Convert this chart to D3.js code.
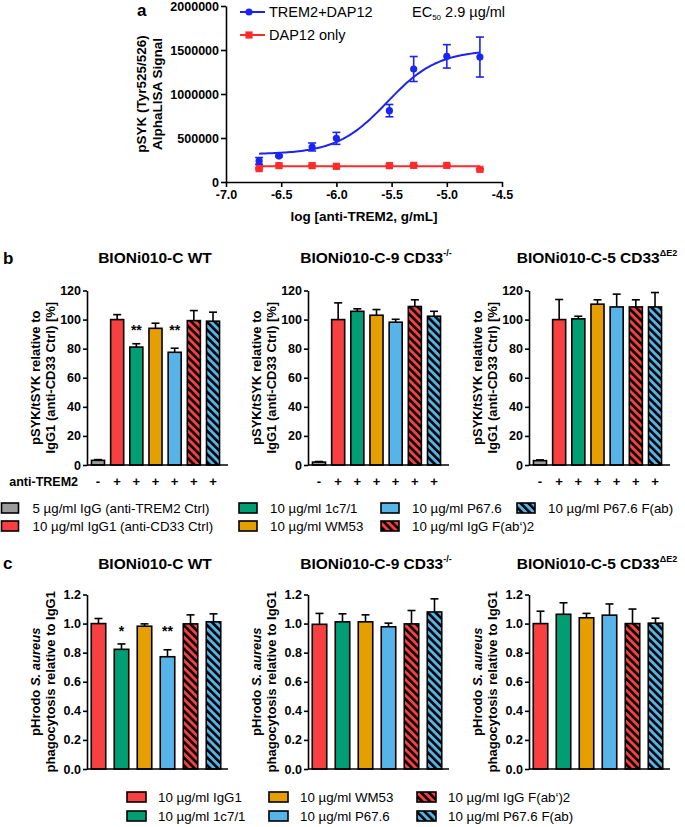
<!DOCTYPE html>
<html>
<head>
<meta charset="utf-8">
<script src="https://cdn.jsdelivr.net/npm/d3@7"></script>
<style>
body { margin: 0; background: #fff; }
svg text { font-family: "Liberation Sans", Arial, sans-serif; fill: #000; }
</style>
</head>
<body>
<svg id="fig" width="685" height="827"></svg>
<script>
// ---- panel a data ----
var logConc = [-6.7, -6.52, -6.22, -6.0, -5.52, -5.3, -5.0, -4.7];
var tremDap = [240000, 295000, 398000, 496000, 811000, 1284000, 1428000, 1420000];
var tremDapErr = [38000, 10000, 45000, 68000, 70000, 142000, 133000, 227000];
var dapOnly = [152000, 186000, 186000, 178000, 186000, 189000, 189000, 144000];
var dapOnlyErr = [8000, 6000, 8000, 5000, 5000, 6000, 5000, 6000];
var tremFit = { bottom: 315000, top: 1500000, logEC50: -5.54, hill: 1.9 };
var dapFit = { bottom: 180000, top: 180000, logEC50: -5.54, hill: 1 };
var aTicksX = [-7.0, -6.5, -6.0, -5.5, -5.0, -4.5];
var aTicksY = [0, 500000, 1000000, 1500000, 2000000];

// ---- panel b data (pSYK/tSYK, %) ----
var bKeys = ["ctrl", "igg1", "c71", "wm53", "p676", "fab2", "fab"];
var bSigns = ["-", "+", "+", "+", "+", "+", "+"];
var bWT = [3.2, 100, 81.1, 94, 77.5, 99.3, 98.9];
var bWTErr = [0.5, 3.4, 2.3, 3.5, 2.8, 6.9, 6.2];
var bWTStars = ["", "", "**", "", "**", "", ""];
var bKO = [2.0, 100, 105.7, 103, 98.2, 109, 102.3];
var bKOErr = [0.4, 11.5, 1.7, 3.9, 2.0, 4.6, 3.4];
var bDE2 = [3.0, 100, 100.5, 110.6, 108.7, 108.7, 108.7];
var bDE2Err = [0.5, 13.8, 1.8, 3.0, 8.8, 4.9, 9.9];
var bTicks = [0, 20, 40, 60, 80, 100, 120];

// ---- panel c data (phagocytosis relative to IgG1) ----
var cKeys = ["igg1", "c71", "wm53", "p676", "fab2", "fab"];
var cWT = [1.0, 0.823, 0.982, 0.772, 0.998, 1.012];
var cWTErr = [0.035, 0.037, 0.016, 0.048, 0.062, 0.055];
var cWTStars = ["", "*", "", "**", "", ""];
var cKO = [0.995, 1.012, 1.012, 0.978, 0.998, 1.08];
var cKOErr = [0.075, 0.055, 0.048, 0.025, 0.092, 0.09];
var cDE2 = [1.0, 1.064, 1.04, 1.058, 1.0, 1.003];
var cDE2Err = [0.085, 0.079, 0.03, 0.077, 0.1, 0.034];
var cTicks = [0, 0.2, 0.4, 0.6, 0.8, 1.0, 1.2];

var lineTitles = [
  ["BIONi010-C WT", ""],
  ["BIONi010-C-9 CD33", "-/-"],
  ["BIONi010-C-5 CD33", "\u0394E2"]
];

var fills = {
  ctrl: "#9b9b9b", igg1: "#f7403f", c71: "#009e73", wm53: "#e69f00",
  p676: "#56b4e9", fab2: "url(#hatchRed)", fab: "url(#hatchBlue)"
};
var labels = {
  ctrl: "5 \u00b5g/ml IgG (anti-TREM2 Ctrl)", igg1: "10 \u00b5g/ml IgG1 (anti-CD33 Ctrl)",
  c71: "10 \u00b5g/ml 1c7/1", wm53: "10 \u00b5g/ml WM53", p676: "10 \u00b5g/ml P67.6",
  fab2: "10 \u00b5g/ml IgG F(ab\u2018)2", fab: "10 \u00b5g/ml P67.6 F(ab)"
};

var svg = d3.select("#fig");

// hatch patterns
var defs = svg.append("defs");
[["hatchRed", "#f7403f"], ["hatchBlue", "#56b4e9"]].forEach(function (p) {
  var pat = defs.append("pattern").attr("id", p[0]).attr("patternUnits", "userSpaceOnUse")
    .attr("width", 5.5).attr("height", 5.5).attr("patternTransform", "rotate(-45)");
  pat.append("rect").attr("width", 5.5).attr("height", 5.5).attr("fill", p[1]);
  pat.append("line").attr("x1", 1.3).attr("x2", 1.3).attr("y1", 0).attr("y2", 5.5)
    .attr("stroke", "#000").attr("stroke-width", 2.6);
});

function styleAxis(g, size) {
  g.selectAll("path, line").attr("stroke", "#000").attr("stroke-width", 1.6);
  g.selectAll("text").attr("font-size", size).attr("font-weight", "bold")
    .attr("font-family", '"Liberation Sans", Arial, sans-serif').attr("fill", "#000");
}

// ================= panel a =================
var ax = d3.scaleLinear().domain([-7, -4.5]).range([226, 502]);
var ay = d3.scaleLinear().domain([0, 2000000]).range([182, 6]);
var ga = svg.append("g");

ga.append("g").attr("transform", "translate(0,182)")
  .call(d3.axisBottom(ax).tickValues(aTicksX).tickFormat(function (d) { return d.toFixed(1); })
    .tickSize(5).tickSizeOuter(0).tickPadding(3))
  .call(styleAxis, 12.5);
ga.append("g").attr("transform", "translate(226,0)")
  .call(d3.axisLeft(ay).tickValues(aTicksY).tickFormat(d3.format("d")).tickSize(5).tickSizeOuter(0).tickPadding(2))
  .call(styleAxis, 12.5);

function fourPL(p, x) {
  return p.bottom + (p.top - p.bottom) / (1 + Math.pow(10, (p.logEC50 - x) * p.hill));
}
var curveX = d3.range(logConc[0], logConc[logConc.length - 1] + 0.001, 0.02);
var line = d3.line().x(function (d) { return ax(d[0]); }).y(function (d) { return ay(d[1]); });

function drawSeries(vals, errs, fit, color, marker) {
  ga.append("path").datum(curveX.map(function (x) { return [x, fourPL(fit, x)]; }))
    .attr("d", line).attr("fill", "none").attr("stroke", color).attr("stroke-width", 2);
  var eb = ga.append("g").attr("stroke", color).attr("stroke-width", 1.6);
  vals.forEach(function (v, i) {
    var x = ax(logConc[i]);
    eb.append("line").attr("x1", x).attr("x2", x).attr("y1", ay(v - errs[i])).attr("y2", ay(v + errs[i]));
    eb.append("line").attr("x1", x - 4).attr("x2", x + 4).attr("y1", ay(v + errs[i])).attr("y2", ay(v + errs[i]));
    eb.append("line").attr("x1", x - 4).attr("x2", x + 4).attr("y1", ay(v - errs[i])).attr("y2", ay(v - errs[i]));
  });
  vals.forEach(function (v, i) {
    if (marker === "circle") {
      ga.append("circle").attr("cx", ax(logConc[i])).attr("cy", ay(v)).attr("r", 3.6).attr("fill", color);
    } else {
      ga.append("rect").attr("x", ax(logConc[i]) - 3.6).attr("y", ay(v) - 3.6)
        .attr("width", 7.2).attr("height", 7.2).attr("fill", color);
    }
  });
}
drawSeries(tremDap, tremDapErr, tremFit, "#1b24f2", "circle");
drawSeries(dapOnly, dapOnlyErr, dapFit, "#ff2b2b", "square");

// legend a
ga.append("line").attr("x1", 240).attr("x2", 265).attr("y1", 12).attr("y2", 12).attr("stroke", "#1b24f2").attr("stroke-width", 2);
ga.append("circle").attr("cx", 249).attr("cy", 12).attr("r", 3.6).attr("fill", "#1b24f2");
ga.append("text").attr("x", 269).attr("y", 17).attr("font-size", 14.5).text("TREM2+DAP12");
ga.append("line").attr("x1", 240).attr("x2", 265).attr("y1", 35).attr("y2", 35).attr("stroke", "#ff2b2b").attr("stroke-width", 2);
ga.append("rect").attr("x", 245.4).attr("y", 31.4).attr("width", 7.2).attr("height", 7.2).attr("fill", "#ff2b2b");
ga.append("text").attr("x", 269).attr("y", 40).attr("font-size", 14.5).text("DAP12 only");
var ec = ga.append("text").attr("x", 412).attr("y", 17).attr("font-size", 14.5);
ec.append("tspan").text("EC");
ec.append("tspan").attr("font-size", 8).attr("dy", 3).text("50");
ec.append("tspan").attr("dy", -3).text(" 2.9 \u00b5g/ml");

// axis titles a
ga.append("text").attr("x", 364).attr("y", 221).attr("text-anchor", "middle")
  .attr("font-size", 13.5).attr("font-weight", "bold").text("log [anti-TREM2, g/mL]");
[["pSYK (Tyr525/526)", 141], ["AlphaLISA Signal", 157]].forEach(function (t) {
  ga.append("text").attr("transform", "translate(" + t[1] + ",94) rotate(-90)")
    .attr("text-anchor", "middle").attr("dy", "0.35em")
    .attr("font-size", 13.5).attr("font-weight", "bold").text(t[0]);
});
svg.append("text").attr("x", 137).attr("y", 16).attr("font-size", 17).attr("font-weight", "bold").text("a");

// ================= bar panels =================
function barPanel(o) {
  var g = svg.append("g");
  var y = d3.scaleLinear().domain(o.yDomain).range([o.yBottom, o.yBottom - 174.5]);
  var x = d3.scaleBand().domain(o.keys).range([o.x0, o.x0 + o.width])
    .paddingInner(o.padIn).paddingOuter(o.padOut);

  g.selectAll("rect.bar").data(o.keys).enter().append("rect")
    .attr("x", function (d) { return x(d); })
    .attr("y", function (d, i) { return y(o.vals[i]); })
    .attr("width", x.bandwidth())
    .attr("height", function (d, i) { return y(0) - y(o.vals[i]); })
    .attr("fill", function (d) { return fills[d]; })
    .attr("stroke", "#000").attr("stroke-width", 1.6);

  var eb = g.append("g").attr("stroke", "#000").attr("stroke-width", 1.6);
  o.keys.forEach(function (k, i) {
    var cx = x(k) + x.bandwidth() / 2;
    var top = y(o.vals[i] + o.errs[i]);
    eb.append("line").attr("x1", cx).attr("x2", cx).attr("y1", y(o.vals[i])).attr("y2", top);
    eb.append("line").attr("x1", cx - 4).attr("x2", cx + 4).attr("y1", top).attr("y2", top);
    if (o.stars && o.stars[i]) {
      g.append("text").attr("x", cx).attr("y", o.starY).attr("text-anchor", "middle")
        .attr("font-size", 14).attr("font-weight", "bold").text(o.stars[i]);
    }
    if (o.signs) {
      g.append("text").attr("x", cx).attr("y", o.yBottom + 21).attr("text-anchor", "middle")
        .attr("font-size", 13).attr("font-weight", "bold").text(o.signs[i]);
    }
  });

  g.append("g").attr("transform", "translate(" + o.x0 + ",0)")
    .call(d3.axisLeft(y).tickValues(o.ticks).tickFormat(o.fmt).tickSize(4).tickSizeOuter(0).tickPadding(2))
    .call(styleAxis, 12.5);
  g.append("line").attr("x1", o.x0).attr("x2", o.x0 + o.axisLen)
    .attr("y1", y(0)).attr("y2", y(0)).attr("stroke", "#000").attr("stroke-width", 1.6);

  var tt = g.append("text").attr("x", o.x0 + 68).attr("y", o.titleY).attr("text-anchor", "middle")
    .attr("font-size", 15.5).attr("font-weight", "bold");
  tt.append("tspan").text(o.title[0]);
  if (o.title[1]) tt.append("tspan").attr("font-size", 9).attr("dy", -7).text(o.title[1]);

  var yc = (y.range()[0] + y.range()[1]) / 2;
  o.ylab.forEach(function (parts, li) {
    var t = g.append("text").attr("transform", "translate(" + (o.x0 - 52 + li * 15) + "," + yc + ") rotate(-90)")
      .attr("text-anchor", "middle").attr("dy", "0.35em").attr("font-size", 13).attr("font-weight", "bold");
    parts.forEach(function (p) {
      t.append("tspan").attr("font-style", p[1] ? "italic" : null).text(p[0]);
    });
  });
}

var xStarts = [87, 308, 529];
var bVals = [bWT, bKO, bDE2], bErrs = [bWTErr, bKOErr, bDE2Err];
var cVals = [cWT, cKO, cDE2], cErrs = [cWTErr, cKOErr, cDE2Err];

xStarts.forEach(function (x0, i) {
  barPanel({
    x0: x0, width: 137, axisLen: 141, padIn: 0.32, padOut: 0.233,
    keys: bKeys, vals: bVals[i], errs: bErrs[i], yDomain: [0, 120], yBottom: 465,
    ticks: bTicks, fmt: d3.format("d"), title: lineTitles[i], titleY: 263,
    stars: i === 0 ? bWTStars : null, starY: 335, signs: bSigns,
    ylab: [[["pSYK/tSYK relative to", false]], [["IgG1 (anti-CD33 Ctrl) [%]", false]]]
  });
  barPanel({
    x0: x0, width: 138, axisLen: 141, padIn: 0.37, padOut: 0.185,
    keys: cKeys, vals: cVals[i], errs: cErrs[i], yDomain: [0, 1.2], yBottom: 769,
    ticks: cTicks, fmt: d3.format(".1f"), title: lineTitles[i], titleY: 569,
    stars: i === 0 ? cWTStars : null, starY: 636, signs: null,
    ylab: [[["pHrodo ", false], ["S. aureus", true]], [["phagocytosis relative to IgG1", false]]]
  });
});

svg.append("text").attr("x", 78).attr("y", 486).attr("text-anchor", "end")
  .attr("font-size", 12.5).attr("font-weight", "bold").text("anti-TREM2");
svg.append("text").attr("x", 3).attr("y", 264).attr("font-size", 17).attr("font-weight", "bold").text("b");
svg.append("text").attr("x", 3).attr("y", 569).attr("font-size", 17).attr("font-weight", "bold").text("c");

// ---- legends ----
function legend(items) {
  var g = svg.append("g");
  items.forEach(function (it) {
    g.append("rect").attr("x", it[1]).attr("y", it[2] - 5).attr("width", it[3]).attr("height", 10)
      .attr("fill", fills[it[0]]).attr("stroke", "#000").attr("stroke-width", 1.6);
    g.append("text").attr("x", it[1] + 31).attr("y", it[2] + 4.5).attr("font-size", 13.3).text(it[4] || labels[it[0]]);
  });
}
legend([
  ["ctrl", 1.5, 508, 17], ["c71", 239, 508, 18], ["p676", 381, 508, 18], ["fab", 517, 508, 18],
  ["igg1", 1.5, 526, 17], ["wm53", 239, 526, 18], ["fab2", 381, 526, 18]
]);
legend([
  ["igg1", 127, 797, 19, "10 \u00b5g/ml IgG1"], ["wm53", 269, 797, 19], ["fab2", 417, 797, 19],
  ["c71", 127, 816, 19], ["p676", 269, 816, 19], ["fab", 417, 816, 19]
]);
</script>
</body>
</html>
